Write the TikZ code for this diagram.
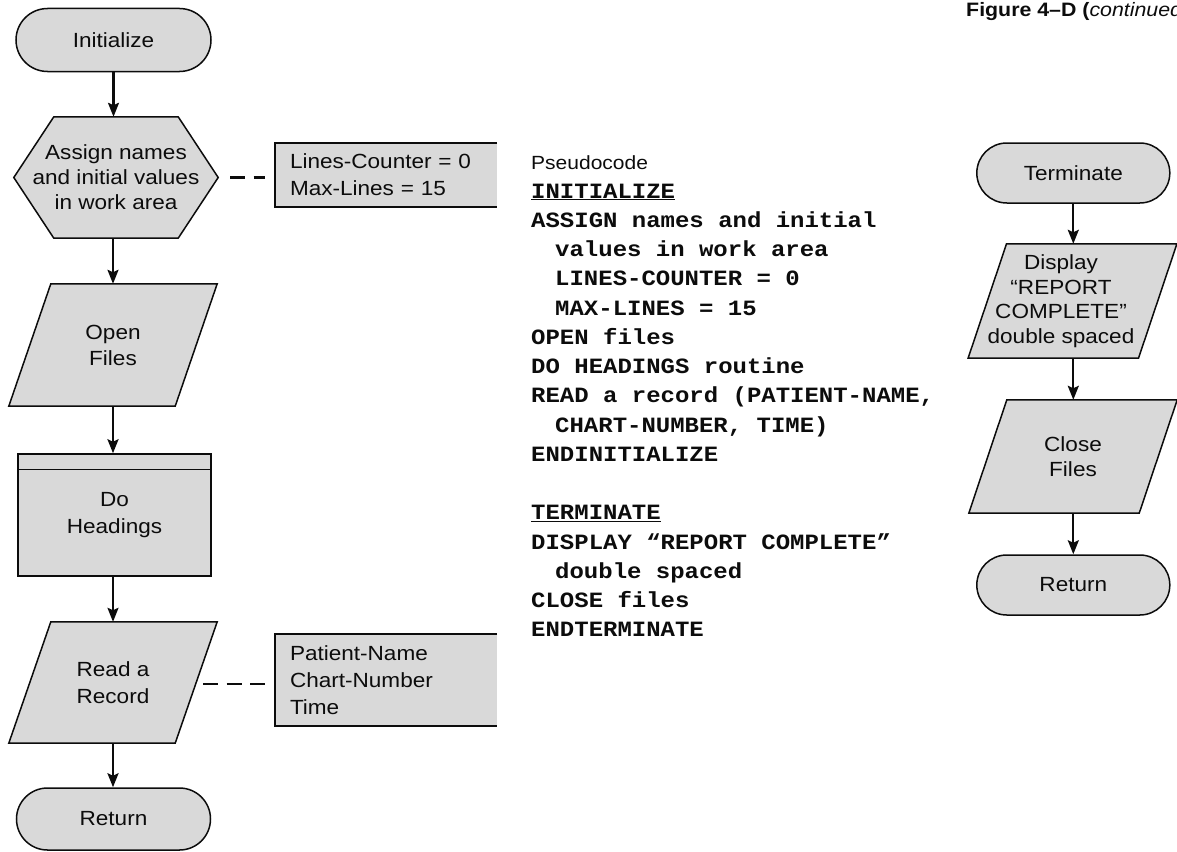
\documentclass[tikz,border=0pt]{standalone}
\usepackage{fontspec}
\setmainfont{Liberation Sans}[FakeStretch=1.1]
\newfontfamily\codefont{Liberation Mono}[FakeStretch=1.1]
\usetikzlibrary{arrows.meta,shapes.misc,calc}
\pgfdeclarelayer{bg}
\pgfsetlayers{bg,main}
\definecolor{boxfill}{RGB}{217,217,217}
\definecolor{ink}{RGB}{12,12,12}

\begin{document}
\begin{tikzpicture}[x=1pt,y=-1pt,
  lbl/.style={font=\fontsize{20.5}{26}\selectfont, align=center, text=ink, inner sep=0pt},
  terminal/.style={rounded rectangle, draw=ink, fill=boxfill, line width=1.5pt, lbl},
  bbox/.style={rectangle, draw=none, lbl},
  frame/.style={draw=ink, fill=boxfill, line width=1.5pt, line join=miter},
  process/.style={rectangle, draw=ink, fill=boxfill, line width=1.5pt, lbl},
  note/.style={rectangle, draw=none, font=\fontsize{20.5}{27}\selectfont, text=ink,
    align=left, text width=192pt, inner xsep=15pt, inner ysep=0pt},
  flow/.style={draw=ink, line width=2.3pt, -{Stealth[length=14pt,width=11pt,inset=2.5pt]}},
  link/.style={draw=ink, line width=2.8pt, dash pattern=on 15pt off 8.5pt},
  code/.style={anchor=base west, inner sep=0pt, text=ink,
    font=\fontsize{21.8}{29}\codefont\bfseries},
  plain/.style={anchor=base west, inner sep=0pt, text=ink,
    font=\fontsize{19.1}{22}\selectfont}]

\path[use as bounding box] (0,0) rectangle (1177,851);
\clip (0,0) rectangle (1177,851);

% ---------- heading ----------
\node[anchor=base west, inner sep=0pt, text=ink, font=\fontsize{19.4}{21}\selectfont\bfseries]
  (title) at (966,16.7) {Figure 4–D (\textit{\mdseries continued}};

% ---------- INITIALIZE flowchart ----------
\node[terminal, minimum width=195pt, minimum height=63pt] (init) at (113.5,40) {Initialize};

\node[bbox, minimum width=204pt, minimum height=121pt, font=\fontsize{20.5}{25}\selectfont]
  (assign) at (116,177.5) {Assign names\\and initial values\\in work area};

\node[bbox, minimum width=208pt, minimum height=122pt] (openf) at (113,345) {Open\\Files};

\node[process, minimum width=193pt, minimum height=122pt, font=\fontsize{20.5}{27}\selectfont]
  (doh) at (114.5,515) {Do\\Headings};

\node[bbox, minimum width=208pt, minimum height=121pt, font=\fontsize{20.5}{27}\selectfont]
  (read) at (113,682.5) {Read a\\Record};

\node[terminal, minimum width=194pt, minimum height=62pt] (ret1) at (113.5,819) {Return};

% annotation boxes
\node[note, minimum height=64pt] (ann1) at (386,175) {Lines-Counter = 0\\Max-Lines = 15};
\node[note, minimum height=92pt] (ann2) at (386,680) {Patient-Name\\Chart-Number\\Time};

% ---------- TERMINATE flowchart ----------
\node[terminal, minimum width=193pt, minimum height=60pt] (term) at (1073.3,173) {Terminate};

\node[bbox, minimum width=208.4pt, minimum height=114pt,
  label={[lbl, font=\fontsize{20.5}{24.5}\selectfont, xshift=-11.5pt]center:{Display\\“REPORT\\COMPLETE”\\double spaced}}]
  (disp) at (1072.5,301) {};

\node[bbox, minimum width=208pt, minimum height=113pt, font=\fontsize{20.5}{25}\selectfont]
  (close) at (1073,456.5) {Close\\Files};

\node[terminal, minimum width=193pt, minimum height=60pt] (ret2) at (1073.3,585) {Return};

% ---------- outlines drawn behind the labels ----------
\begin{pgfonlayer}{bg}
  % hexagon (preparation)
  \draw[frame] (assign.west) -- ($(assign.north west)+(40,0)$) -- ($(assign.north east)+(-40,0)$)
    -- (assign.east) -- ($(assign.south east)+(-40,0)$) -- ($(assign.south west)+(40,0)$) -- cycle;
  % input/output parallelograms
  \draw[frame] (openf.south west) -- ($(openf.south east)+(-42,0)$) -- (openf.north east)
    -- ($(openf.north west)+(42,0)$) -- cycle;
  \draw[frame] (read.south west) -- ($(read.south east)+(-42,0)$) -- (read.north east)
    -- ($(read.north west)+(42,0)$) -- cycle;
  \draw[frame] (disp.south west) -- ($(disp.south east)+(-38.4,0)$) -- (disp.north east)
    -- ($(disp.north west)+(38.4,0)$) -- cycle;
  \draw[frame] (close.south west) -- ($(close.south east)+(-38,0)$) -- (close.north east)
    -- ($(close.north west)+(38,0)$) -- cycle;
  % annotation boxes, open on the right
  \fill[boxfill] (ann1.north west) rectangle (ann1.south east);
  \draw[draw=ink, line width=1.5pt] (ann1.north east) -- (ann1.north west) -- (ann1.south west) -- (ann1.south east);
  \fill[boxfill] (ann2.north west) rectangle (ann2.south east);
  \draw[draw=ink, line width=1.5pt] (ann2.north east) -- (ann2.north west) -- (ann2.south west) -- (ann2.south east);
\end{pgfonlayer}

% predefined-process stripe
\draw[draw=ink, line width=1.5pt] ($(doh.north west)+(0,16)$) -- ($(doh.north east)+(0,16)$);

% ---------- flow lines ----------
\draw[flow] (init.south) -- (init.south |- assign.north);
\draw[flow] (openf.north |- assign.south) -- (openf.north);
\draw[flow] (openf.south) -- (openf.south |- doh.north);
\draw[flow] (read.north |- doh.south) -- (read.north);
\draw[flow] (read.south) -- (read.south |- ret1.north);

\draw[flow] (term.south) -- (term.south |- disp.north);
\draw[flow] (term.south |- disp.south) -- (term.south |- close.north);
\draw[flow] (term.south |- close.south) -- (term.south |- ret2.north);

% annotation links
\coordinate (readR) at ($(read.center)+(83,1.5)$);
\draw[link, shorten <=12pt, shorten >=10pt] (assign.east) -- (assign.east -| ann1.west);
\draw[link, shorten <=7pt, shorten >=8pt] (readR) -- (readR -| ann2.west);

% ---------- pseudocode ----------
\node[plain] (p0) at (531,169.5) {Pseudocode};
\node[code] (p1) at (531,198) {\underline{INITIALIZE}};
\node[code] (p2) at (531,227.25) {ASSIGN names and initial};
\node[code] (p3) at (555,256.5) {values in work area};
\node[code] (p4) at (555,285.75) {LINES-COUNTER = 0};
\node[code] (p5) at (555,315) {MAX-LINES = 15};
\node[code] (p6) at (531,344.25) {OPEN files};
\node[code] (p7) at (531,373.5) {DO HEADINGS routine};
\node[code] (p8) at (531,402.75) {READ a record (PATIENT-NAME,};
\node[code] (p9) at (555,432) {CHART-NUMBER, TIME)};
\node[code] (p10) at (531,461.25) {ENDINITIALIZE};
\node[code] (p11) at (531,519.75) {\underline{TERMINATE}};
\node[code] (p12) at (531,549) {DISPLAY “REPORT COMPLETE”};
\node[code] (p13) at (555,578.25) {double spaced};
\node[code] (p14) at (531,607.5) {CLOSE files};
\node[code] (p15) at (531,636.75) {ENDTERMINATE};
\end{tikzpicture}
\end{document}
